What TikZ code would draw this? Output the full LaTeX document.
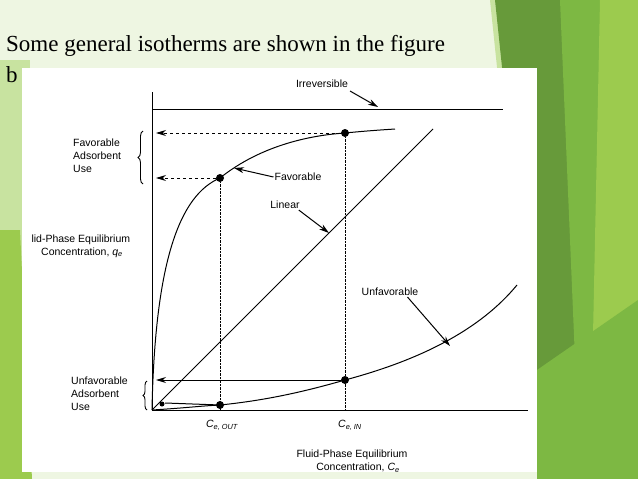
\documentclass[tikz,border=0pt]{standalone}
\usepackage{fontspec}
\setmainfont{Liberation Serif}
\newfontfamily\hv{Liberation Sans}
\usetikzlibrary{arrows.meta,decorations.pathreplacing}
\definecolor{bgl}{HTML}{EEF6E2}
\definecolor{gdark}{HTML}{679A3A}
\definecolor{gmid}{HTML}{7DB843}
\definecolor{glight}{HTML}{9CCB4E}
\definecolor{gpale}{HTML}{C8E3A0}
\newcommand{\myit}[1]{{\itshape #1}}
\tikzset{lbl/.style={font=\hv\fontsize{10.5}{13}\selectfont,inner sep=1pt},
 dotc/.style={circle,fill=black,inner sep=0pt,minimum size=8pt},
 ax/.style={line width=1pt},
 crv/.style={line width=1pt},
 arr/.style={-{Stealth[length=10pt,width=6pt]},line width=1pt}}
\begin{document}
\begin{tikzpicture}[x=1pt,y=-1pt]
\useasboundingbox (0,0) rectangle (638,479);
\fill[bgl] (0,0) rectangle (638,479);
\fill[gpale] (0,60) -- (30,60) -- (30,479) -- (0,479) -- cycle;
\fill[glight] (0,230) -- (20,230) -- (32,479) -- (0,479) -- cycle;
\fill[gpale] (490,0) -- (638,0) -- (638,479) -- (540,479) -- cycle;
\fill[gdark] (495,0) -- (575,0) -- (600,479) -- (545,479) -- cycle;
\fill[gmid] (560,0) -- (638,0) -- (638,479) -- (580,479) -- cycle;
\fill[glight] (600,0) -- (638,0) -- (638,479) -- (590,479) -- cycle;
\fill[gmid] (537,370) -- (638,300) -- (638,479) -- (537,479) -- cycle;
\node[anchor=base west,inner sep=0pt,font=\fontsize{23}{26}\selectfont] (title) at (6,52) {Some general isotherms are shown in the figure};
\node[anchor=base west,inner sep=0pt,font=\fontsize{23}{26}\selectfont] (b) at (6,82) {b};
\fill[white] (22,68) rectangle (537,472);
% axes
\coordinate (O) at (152,410);
\coordinate (ytop) at (152,92);
\coordinate (xend) at (528,410);
\draw[ax] (ytop) -- (O) -- (xend);
\coordinate (irr1) at (152,109); \coordinate (irr2) at (503,109);
\draw[ax] (irr1) -- (irr2);
\node[lbl] (irr) at (322,84) {Irreversible};
\coordinate (irrA) at (378,107);
\draw[arr] (350,91) -- (irrA);
% favorable
\node[dotc] (f1) at (220,178) {};
\node[dotc] (f2) at (345,133) {};
\draw[crv] (O) .. controls (155,260) and (180,195) .. (f1.center) .. controls (255,150) and (300,136) .. (f2.center) .. controls (365,131) and (380,130) .. (395,129);
\node[lbl] (fav) at (298,177) {Favorable};
\draw[arr] (fav.west) -- (234,168);
% linear
\coordinate (lin) at (433,129);
\draw[crv] (O) -- (lin);
\node[lbl] (linl) at (285,205) {Linear};
\draw[arr] (linl.south east) ++(-2,0) -- (329,233);
% unfavorable
\node[dotc] (u1) at (220,405) {};
\node[dotc] (u2) at (345,380) {};
\node[dotc,minimum size=5pt] (u0) at (162,404) {};
\draw[crv] (O) .. controls (185,408) and (200,406) .. (u1.center) .. controls (270,400) and (310,390) .. (u2.center) .. controls (420,360) and (480,330) .. (517,285);
\node[lbl] (unf) at (390,292) {Unfavorable};
\draw[arr] (unf.south east) ++(-12,0) -- (450,346);
% arrows to axis
\coordinate (fy1) at (156,133); \coordinate (fy2) at (156,178);
\draw[dashed,arr] (f2) -- (fy1);
\draw[dashed,arr] (f1) -- (fy2);
\coordinate (uy2) at (156,380); \coordinate (uy1) at (165,403);
\draw[arr] (u2) -- (uy2);
\draw[line width=1pt] (u1) -- (uy1);
\draw[densely dotted] (f1) -- (220,410);
\draw[densely dotted] (f2) -- (345,410);
% braces
\draw[line width=0.9pt,decorate,decoration={brace,amplitude=5pt}] (143,184) -- (143,131);
\draw[line width=0.9pt,decorate,decoration={brace,amplitude=4pt}] (147,410) -- (147,381);
\node[lbl,align=left,anchor=west] (fau) at (72,156) {Favorable\\Adsorbent\\Use};
\node[lbl,align=left,anchor=west] (uau) at (70,394) {Unfavorable\\Adsorbent\\Use};
\node[lbl,align=center] (ylab) at (82,246) {\llap{l}id-Phase Equilibrium\\Concentration, \myit{q\textsubscript{e}}};
\node[lbl] (cout) at (222,425) {\myit{C\textsubscript{e, OUT}}};
\node[lbl] (cin) at (350,425) {\myit{C\textsubscript{e, IN}}};
\node[lbl,align=center] (xlab) at (352,461) {Fluid-Phase Equilibrium\\\hspace*{12pt}Concentration, \myit{C\textsubscript{e}}};
\end{tikzpicture}
\end{document}
